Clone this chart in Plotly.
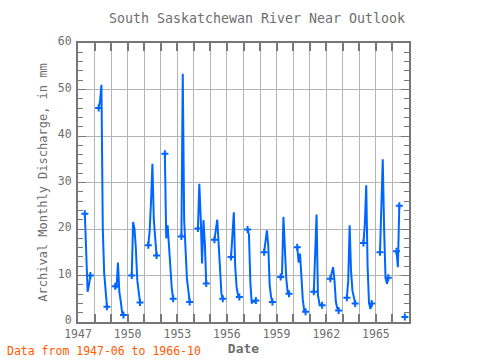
import plotly.graph_objects as go

years = list(range(1947, 1967))
# Monthly discharge (mm), open-water season Apr..Oct; None = no data
apr = [None, 46.0, 7.7, 10.0, 16.5, 36.2, 18.4, 20.1, 17.7, 14.0, 19.9, 15.0, 9.7, 16.1, 6.5, 9.3, 5.2, 17.0, 15.0, 15.2]
may = [None, 47.5, 7.3, 21.5, 19.5, 18.0, 53.4, 29.7, 19.7, 19.4, 18.8, 18.0, 10.4, 12.8, 15.0, 10.5, 9.0, 21.0, 27.0, 11.8]
jun = [23.3, 51.0, 12.8, 20.0, 26.0, 20.8, 22.0, 22.5, 22.0, 23.6, 8.5, 19.7, 22.6, 14.7, 23.1, 11.8, 20.8, 29.4, 35.0, 25.0]
jul = [12.0, 20.0, 6.5, 15.8, 34.0, 16.5, 14.7, 12.6, 17.0, 12.0, 4.0, 16.5, 14.7, 9.5, 5.8, 9.0, 11.1, 12.0, 20.0, None]
aug = [6.5, 10.5, 4.5, 9.0, 22.0, 11.0, 9.3, 21.9, 10.0, 7.5, 4.5, 8.0, 9.5, 4.8, 4.0, 4.3, 6.8, 4.3, 9.5, None]
sep = [8.0, 6.5, 2.0, 6.0, 18.0, 7.2, 6.8, 16.8, 6.1, 5.8, 4.4, 5.4, 6.5, 2.5, 3.6, 3.0, 5.5, 2.8, 8.2, None]
oct_ = [10.0, 3.3, 1.5, 4.2, 14.3, 5.0, 4.3, 8.3, 5.0, 5.4, 4.6, 4.3, 6.1, 2.2, 3.6, 2.5, 4.0, 4.0, 9.5, 1.1]

month_arrays = [apr, may, jun, jul, aug, sep, oct_]
dates, vals = [], []
for i, y in enumerate(years):
    for mi, arr in enumerate(month_arrays):
        dates.append(f"{y}-{mi + 4:02d}-01")
        vals.append(arr[i])
    dates.append(f"{y}-12-01")
    vals.append(None)

# segment end points (first/last valid value of each continuous run) get markers
end_x, end_y = [], []
for k, v in enumerate(vals):
    if v is None:
        continue
    prev_none = k == 0 or vals[k - 1] is None
    next_none = k == len(vals) - 1 or vals[k + 1] is None
    if prev_none or next_none:
        end_x.append(dates[k])
        end_y.append(v)

blue = "#0066ff"
grey = "#6e6e6e"
axis_grey = "#777777"
font_family = "DejaVu Sans Mono, Liberation Mono, monospace"

fig = go.Figure()
fig.add_trace(go.Scatter(
    x=dates, y=vals, mode="lines", connectgaps=False,
    line=dict(color=blue, width=2), showlegend=False, hoverinfo="skip",
))
fig.add_trace(go.Scatter(
    x=end_x, y=end_y, mode="markers",
    marker=dict(symbol="cross-thin", size=5, color=blue, line=dict(width=2, color=blue)),
    showlegend=False,
))

fig.update_layout(
    width=480, height=360,
    margin=dict(l=78, r=71, t=43, b=38, autoexpand=False),
    paper_bgcolor="white", plot_bgcolor="white",
    font=dict(family=font_family, color=grey, size=11.5),
    title=dict(text="South Saskatchewan River Near Outlook", x=257 / 480, xanchor="center",
               y=1 - 18 / 360, yanchor="middle", font=dict(size=13.3, color=grey, family=font_family)),
)

fig.update_xaxes(
    type="date", range=["1947-01-01", "1967-01-01"], automargin=False,
    tickvals=[f"{y}-01-01" for y in range(1947, 1967, 3)],
    ticktext=[str(y) for y in range(1947, 1967, 3)],
    ticks="inside", ticklen=8, tickwidth=2, tickcolor=axis_grey,
    showgrid=True, gridcolor="#b4b4b4", gridwidth=1,
    minor=dict(tickvals=[f"{y}-01-01" for y in range(1947, 1968)], ticks="inside", ticklen=8,
               tickwidth=2, tickcolor=axis_grey, showgrid=True, gridcolor="#b4b4b4", gridwidth=1),
    showline=True, linecolor=axis_grey, linewidth=2, mirror="ticks",
    tickfont=dict(size=11.5, color=grey),
    title=dict(text="<b>Date</b>", font=dict(size=13, color=grey), standoff=4),
    zeroline=False,
)
fig.update_yaxes(
    range=[0, 60], dtick=10, automargin=False,
    ticks="inside", ticklen=8, tickwidth=1, tickcolor=axis_grey,
    showgrid=True, gridcolor="#b4b4b4", gridwidth=1,
    minor=dict(dtick=2, ticks="inside", ticklen=5, tickwidth=1, tickcolor=axis_grey, showgrid=False),
    showline=True, linecolor=axis_grey, linewidth=2, mirror="ticks",
    tickfont=dict(size=11.5, color=grey), ticklabelshift=-2, ticklabelstandoff=2,
    title=dict(text="Archival Monthly Discharge, in mm", font=dict(size=12, color=grey), standoff=8),
    zeroline=False,
)

fig.add_annotation(text="Data from 1947-06 to 1966-10", xref="paper", yref="paper",
                   x=-73 / 331, y=-38 / 279, xanchor="left", yanchor="bottom",
                   showarrow=False, font=dict(size=11.5, color="#ff5a00", family=font_family))

fig.write_html("out.html", config={"displayModeBar": False},
               post_script="document.body.style.margin='0';document.body.style.padding='0';")
